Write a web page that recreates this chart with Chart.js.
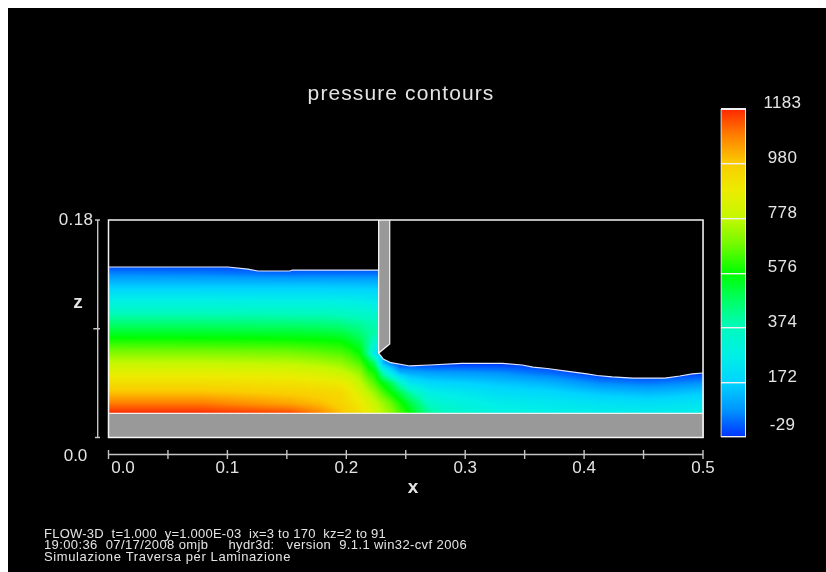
<!DOCTYPE html>
<html lang="en">
<head>
    <meta charset="UTF-8">
    <title>pressure contours</title>
    <script src="https://cdn.jsdelivr.net/npm/chart.js"></script>
    <style>
        html, body { margin: 0; background: #fff; overflow: hidden; }
        #back { position: absolute; left: 8px; top: 8px; width: 818px; height: 564px; background: #000; }
        canvas { position: absolute; filter: blur(0.35px); }
        #mainChart { left: 0; top: 0; }
        #barChart { left: 700px; top: 90px; }
    </style>
</head>
<body>
    <div id="back"></div>
    <canvas id="mainChart" width="826" height="572"></canvas>
    <canvas id="barChart" width="126" height="360"></canvas>

    <script>
// axis ticks
const xTicks = [0, 0.05, 0.1, 0.15, 0.2, 0.25, 0.3, 0.35, 0.4, 0.45, 0.5];
const xTickLabels = ["0.0", "", "0.1", "", "0.2", "", "0.3", "", "0.4", "", "0.5"];
const zTicks = [0, 0.09, 0.18];
const colorTicks = [-29, 172, 374, 576, 778, 980, 1183];

// free surface, gate and floor outlines (x, z in metres)
const surfaceX = [0, 0.1005, 0.1173, 0.1257, 0.1527, 0.1545, 0.2258, 0.2272, 0.2272, 0.231, 0.2375, 0.2535, 0.27, 0.297, 0.3315, 0.348, 0.357, 0.369, 0.385, 0.4025, 0.411, 0.4235, 0.441, 0.468, 0.4805, 0.491, 0.5];
const surfaceZ = [0.1411, 0.1411, 0.1394, 0.1378, 0.1378, 0.1386, 0.1386, 0.1386, 0.0699, 0.065, 0.0619, 0.0592, 0.06, 0.0614, 0.0614, 0.06, 0.0583, 0.0571, 0.055, 0.0526, 0.0513, 0.0501, 0.0492, 0.0492, 0.0509, 0.0526, 0.0534];
const gateX = [0.2272, 0.2272, 0.2365, 0.2365];
const gateZ = [0.18, 0.0699, 0.0774, 0.18];
const floorX = [0, 0.5];
const floorZ = [0.0199, 0.0199];

// pressure at these grid nodes
const gridX = [0, 0.077, 0.153, 0.178, 0.195, 0.203, 0.2115, 0.218, 0.224, 0.231, 0.237, 0.245, 0.2535, 0.262, 0.27, 0.283, 0.3, 0.327, 0.371, 0.413, 0.455, 0.5];
const gridZ = [0.0199, 0.0286, 0.0368, 0.0451, 0.0534, 0.0617, 0.0699, 0.0782, 0.0865, 0.0948, 0.103, 0.1113, 0.1196, 0.1279, 0.1361, 0.1444];
const pressure = [
    [1183, 1183, 1150, 1075, 1000, 960, 920, 870, 830, 770, 730, 650, 580, 490, 420, 370, 330, 295, 275, 265, 262, 270],
    [1085, 1085, 1030, 1000, 960, 930, 890, 840, 790, 730, 680, 600, 510, 430, 350, 315, 290, 260, 240, 220, 210, 225],
    [1000, 1000, 975, 960, 945, 900, 840, 780, 725, 650, 590, 510, 410, 340, 275, 260, 240, 210, 190, 150, 130, 160],
    [930, 930, 915, 900, 885, 850, 785, 710, 650, 560, 500, 360, 230, 210, 190, 180, 170, 150, 120, 60, 40, 70],
    [860, 860, 850, 830, 800, 770, 725, 630, 590, 380, 260, 130, 110, 100, 90, 85, 80, 70, 30, -29, -29, -20],
    [783, 780, 770, 750, 725, 690, 645, 560, 470, 120, 50, -29, -29, -29, -29, -29, -29, -29, -29, -29, -29, -29],
    [702, 700, 690, 670, 650, 625, 575, 430, 230, 150, -29, -29, -29, -29, -29, -29, -29, -29, -29, -29, -29, -29],
    [620, 618, 610, 600, 590, 560, 520, 430, 330, 300, -29, -29, -29, -29, -29, -29, -29, -29, -29, -29, -29, -29],
    [538, 536, 530, 525, 515, 490, 460, 420, 400, 390, -29, -29, -29, -29, -29, -29, -29, -29, -29, -29, -29, -29],
    [457, 456, 450, 445, 435, 420, 410, 395, 385, 380, -29, -29, -29, -29, -29, -29, -29, -29, -29, -29, -29, -29],
    [375, 375, 370, 368, 362, 355, 345, 335, 330, 325, -29, -29, -29, -29, -29, -29, -29, -29, -29, -29, -29, -29],
    [294, 294, 290, 288, 284, 280, 275, 270, 265, 260, -29, -29, -29, -29, -29, -29, -29, -29, -29, -29, -29, -29],
    [212, 212, 210, 208, 206, 204, 202, 200, 198, 196, -29, -29, -29, -29, -29, -29, -29, -29, -29, -29, -29, -29],
    [130, 130, 128, 128, 126, 126, 124, 124, 124, 122, -29, -29, -29, -29, -29, -29, -29, -29, -29, -29, -29, -29],
    [50, 45, 25, 30, 30, 30, 30, 30, 30, 30, -29, -29, -29, -29, -29, -29, -29, -29, -29, -29, -29, -29],
    [-29, -29, -29, -29, -29, -29, -29, -29, -29, -29, -29, -29, -29, -29, -29, -29, -29, -29, -29, -29, -29, -29]
];

// colour map, evenly spaced from the bottom of the colour bar to the top
const colorStops = [
    [0, 50, 255], [0, 150, 255], [0, 212, 255], [0, 240, 230], [0, 250, 190], [0, 255, 100], [0, 255, 0],
    [110, 250, 0], [195, 248, 0], [236, 236, 0], [250, 205, 0], [255, 130, 0], [255, 40, 0]
];

const footer = [
    "FLOW-3D  t=1.000  y=1.000E-03  ix=3 to 170  kz=2 to 91",
    "19:00:36  07/17/2008 omjb     hydr3d:   version  9.1.1 win32-cvf 2006",
    "Simulazione Traversa per Laminazione"
];
const footerWidths = [342, 423, 247];

const FONT = '"Liberation Sans", Arial, sans-serif';
const TEXT = "#e4e4e4";
const AXIS = "#c4c4c4";
const GRAY = "#999999";

function toPoints(xs, zs) {
    return xs.map((x, i) => ({ x: x, y: zs[i] }));
}

function findCell(list, v) {
    let i = 0;
    while (i < list.length - 2 && v > list[i + 1]) i++;
    const t = (v - list[i]) / (list[i + 1] - list[i]);
    return [i, Math.min(1, Math.max(0, t))];
}

function pressureColor(p) {
    const span = colorTicks[colorTicks.length - 1] - colorTicks[0];
    const t = Math.min(0.9999, Math.max(0, (p - colorTicks[0]) / span)) * (colorStops.length - 1);
    const i = Math.floor(t);
    const f = t - i;
    return colorStops[i].map((c, k) => c + (colorStops[i + 1][k] - c) * f);
}

// paints the pressure table behind the datasets, going through the chart scales
const fieldPlugin = {
    id: "field",
    beforeDatasetsDraw(chart) {
        const area = chart.chartArea;
        const xs = chart.scales.x;
        const ys = chart.scales.y;
        const w = Math.round(area.right - area.left);
        const h = Math.round(area.bottom - area.top);
        const off = document.createElement("canvas");
        off.width = w;
        off.height = h;
        const octx = off.getContext("2d");
        const img = octx.createImageData(w, h);
        for (let r = 0; r < h; r++) {
            const [j, tz] = findCell(gridZ, ys.getValueForPixel(area.top + r + 0.5));
            for (let c = 0; c < w; c++) {
                const [i, tx] = findCell(gridX, xs.getValueForPixel(area.left + c + 0.5));
                const low = pressure[j][i] * (1 - tx) + pressure[j][i + 1] * tx;
                const high = pressure[j + 1][i] * (1 - tx) + pressure[j + 1][i + 1] * tx;
                const rgb = pressureColor(low * (1 - tz) + high * tz);
                const k = (r * w + c) * 4;
                img.data[k] = rgb[0];
                img.data[k + 1] = rgb[1];
                img.data[k + 2] = rgb[2];
                img.data[k + 3] = 255;
            }
        }
        octx.putImageData(img, 0, 0);
        chart.ctx.drawImage(off, area.left, area.top);
    }
};

function drawText(ctx, text, x, y, font, align, spacing) {
    ctx.font = font;
    ctx.letterSpacing = (spacing || 0) + "px";
    ctx.textAlign = align || "center";
    ctx.textBaseline = "middle";
    ctx.fillStyle = TEXT;
    ctx.fillText(text, x, y);
    ctx.letterSpacing = "0px";
}

// frame, detached axes and all the captions
const axesPlugin = {
    id: "axes",
    afterDraw(chart) {
        const ctx = chart.ctx;
        const area = chart.chartArea;
        const xs = chart.scales.x;
        const ys = chart.scales.y;
        ctx.save();

        ctx.strokeStyle = "#f4f4f4";
        ctx.lineWidth = 1.5;
        ctx.strokeRect(area.left, area.top, area.right - area.left, area.bottom - area.top);

        ctx.strokeStyle = AXIS;
        ctx.lineWidth = 1.4;
        ctx.beginPath();
        ctx.moveTo(area.left, 454.5);
        ctx.lineTo(area.right, 454.5);
        xTicks.forEach((t) => {
            const px = xs.getPixelForValue(t);
            ctx.moveTo(px, 450);
            ctx.lineTo(px, 459);
        });
        ctx.moveTo(97.7, ys.getPixelForValue(zTicks[0]));
        ctx.lineTo(97.7, ys.getPixelForValue(zTicks[2]));
        zTicks.forEach((t, i) => {
            const py = ys.getPixelForValue(t);
            ctx.moveTo(i === 1 ? 93.3 : 95, py);
            ctx.lineTo(100, py);
        });
        ctx.stroke();

        const tickFont = "17px " + FONT;
        xTickLabels.forEach((label, i) => {
            if (label === "") return;
            // the first label sits right of its tick in the original
            const shift = i === 0 ? 14.5 : 0;
            drawText(ctx, label, xs.getPixelForValue(xTicks[i]) + shift, 468.5, tickFont);
        });
        drawText(ctx, "0.18", 76, ys.getPixelForValue(zTicks[2]) + 0.5, tickFont, "center", 0.3);
        drawText(ctx, "0.0", 75.5, ys.getPixelForValue(zTicks[0]) + 18.5, tickFont);
        drawText(ctx, "z", 78, 303, "bold 19px " + FONT);
        drawText(ctx, "x", 413, 488, "bold 19px " + FONT);
        drawText(ctx, "pressure contours", 401, 94, "21px " + FONT, "center", 1.1);

        footer.forEach((line, i) => {
            const font = "13px " + FONT;
            ctx.font = font;
            const spacing = (footerWidths[i] - ctx.measureText(line).width) / line.length;
            drawText(ctx, line, 44, 534 + i * 11.7, font, "left", spacing);
        });
        ctx.restore();
    }
};

new Chart(document.getElementById("mainChart"), {
    type: "scatter",
    data: {
        datasets: [
            {
                label: "gate",
                data: toPoints(gateX, gateZ),
                showLine: true,
                pointRadius: 0,
                borderColor: "#f0f0f0",
                borderWidth: 1.3,
                fill: "end",
                backgroundColor: GRAY
            },
            {
                label: "floor",
                data: toPoints(floorX, floorZ),
                showLine: true,
                pointRadius: 0,
                borderColor: "#f0f0f0",
                borderWidth: 1.3,
                fill: "start",
                backgroundColor: GRAY
            },
            {
                label: "surface",
                data: toPoints(surfaceX, surfaceZ),
                showLine: true,
                pointRadius: 0,
                borderColor: "#dfe6ff",
                borderWidth: 1.2,
                fill: "end",
                backgroundColor: "#000000"
            }
        ]
    },
    options: {
        responsive: false,
        animation: false,
        layout: { padding: { left: 108.5, right: 123, top: 220, bottom: 134.5 } },
        scales: {
            x: { type: "linear", min: 0, max: 0.5, display: false },
            y: { type: "linear", min: 0, max: 0.18, display: false }
        },
        plugins: { legend: { display: false }, tooltip: { enabled: false } }
    },
    plugins: [fieldPlugin, axesPlugin]
});

// colour bar labels sit above their divider lines
const barLabelsPlugin = {
    id: "barLabels",
    afterDraw(chart) {
        const ys = chart.scales.y;
        const ctx = chart.ctx;
        ctx.save();
        colorTicks.forEach((t, i) => {
            const shift = i === 0 ? -12 : -5.5;
            drawText(ctx, String(t), 82.5, ys.getPixelForValue(t) + shift, "17px " + FONT, "center", 0.3);
        });
        ctx.restore();
    }
};

new Chart(document.getElementById("barChart"), {
    type: "bar",
    data: {
        labels: ["p"],
        datasets: [{
            data: [[colorTicks[0], colorTicks[colorTicks.length - 1]]],
            barPercentage: 1,
            categoryPercentage: 1,
            borderColor: "#f0f0f0",
            borderWidth: 1.3,
            backgroundColor(context) {
                const area = context.chart.chartArea;
                if (!area) return "#000";
                const g = context.chart.ctx.createLinearGradient(0, area.bottom, 0, area.top);
                colorStops.forEach((c, i) => {
                    g.addColorStop(i / (colorStops.length - 1), "rgb(" + c.join(",") + ")");
                });
                return g;
            }
        }]
    },
    options: {
        responsive: false,
        animation: false,
        layout: { padding: { left: 20.5, right: 80, top: 19, bottom: 13 } },
        scales: {
            x: { display: false },
            y: {
                min: colorTicks[0],
                max: colorTicks[colorTicks.length - 1],
                afterBuildTicks(axis) {
                    axis.ticks = colorTicks.map((v) => ({ value: v }));
                },
                ticks: { display: false },
                border: { display: false },
                grid: { color: "#f0f0f0", lineWidth: 1.4, drawTicks: false, z: 1 }
            }
        },
        plugins: { legend: { display: false }, tooltip: { enabled: false } }
    },
    plugins: [barLabelsPlugin]
});
    </script>
</body>
</html>
